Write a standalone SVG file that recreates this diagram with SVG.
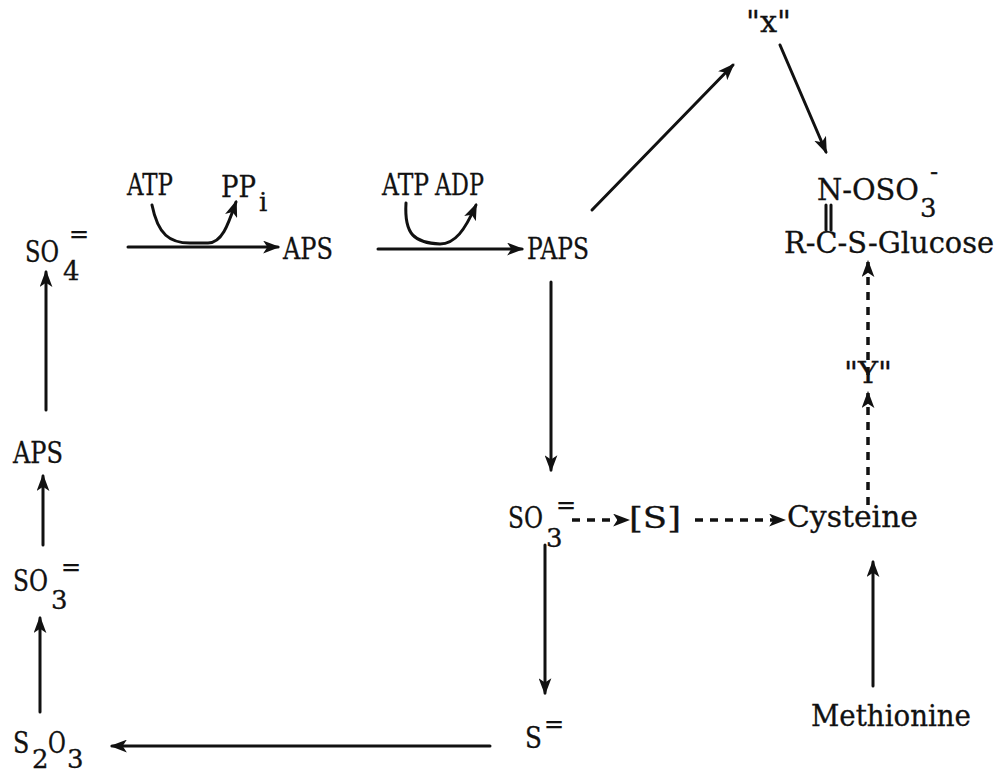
<svg xmlns="http://www.w3.org/2000/svg" width="995" height="774" viewBox="0 0 995 774">
<style>
text{font-family:"DejaVu Serif","Liberation Serif",serif;font-size:29px;fill:#111;stroke:#111;stroke-width:0.3}
.sub{font-size:26px}
.sup{font-size:24px}
.ln{fill:none;stroke:#111;stroke-width:3;stroke-linecap:round}
.dash{fill:none;stroke:#111;stroke-width:3.5;stroke-dasharray:8,7}
</style>
<defs>
<marker id="ah" viewBox="0 0 16 12" refX="14" refY="6" markerWidth="17" markerHeight="13" markerUnits="userSpaceOnUse" orient="auto">
<path d="M0,0 L16,6 L0,12 L4,6 Z" fill="#111"/>
</marker>
</defs>
<rect width="995" height="774" fill="#fff"/>
<g id="connectors">
<path class="ln" d="M128,247 L278,247" marker-end="url(#ah)"/>
<path class="ln" d="M152,205 C158,235 170,243 190,243 L208,243 C222,243 228,225 236,202" marker-end="url(#ah)"/>
<path class="ln" d="M378,249 L522,249" marker-end="url(#ah)"/>
<path class="ln" d="M406,203 C404,235 415,243 440,244 C455,244 465,230 476,205" marker-end="url(#ah)"/>
<path class="ln" d="M592,210 L733,65" marker-end="url(#ah)"/>
<path class="ln" d="M780,45 L826,152" marker-end="url(#ah)"/>
<path class="ln" d="M826,205 L826,230 M831,205 L831,230"/>
<path class="dash" d="M868,375 L868,262" marker-end="url(#ah)"/>
<path class="dash" d="M868,505 L868,393" marker-end="url(#ah)"/>
<path class="ln" d="M873,686 L873,562" marker-end="url(#ah)"/>
<path class="ln" d="M551,282 L551,470" marker-end="url(#ah)"/>
<path class="dash" d="M572,520 L628,520" marker-end="url(#ah)"/>
<path class="dash" d="M695,520 L784,520" marker-end="url(#ah)"/>
<path class="ln" d="M545,545 L545,693" marker-end="url(#ah)"/>
<path class="ln" d="M490,746 L112,746" marker-end="url(#ah)"/>
<path class="ln" d="M40,712 L40,618" marker-end="url(#ah)"/>
<path class="ln" d="M43,545 L43,476" marker-end="url(#ah)"/>
<path class="ln" d="M46,410 L46,272" marker-end="url(#ah)"/>
</g>
<g id="SO4"><text transform="translate(25,262) scale(0.78,1)">SO</text><text class="sub" x="63" y="280">4</text><text class="sup" x="69" y="242">=</text></g>
<g id="ATP1"><text x="127" y="195" textLength="46" lengthAdjust="spacingAndGlyphs">ATP</text></g>
<g id="PPi"><text x="221" y="197" textLength="35" lengthAdjust="spacingAndGlyphs">PP</text><text class="sub" x="259" y="211">i</text></g>
<g id="APS"><text x="283" y="259" textLength="50" lengthAdjust="spacingAndGlyphs">APS</text></g>
<g id="ATP2"><text x="382" y="195" textLength="47" lengthAdjust="spacingAndGlyphs">ATP</text></g>
<g id="ADP"><text x="435" y="195" textLength="49" lengthAdjust="spacingAndGlyphs">ADP</text></g>
<g id="PAPS"><text x="527" y="259" textLength="62" lengthAdjust="spacingAndGlyphs">PAPS</text></g>
<g id="X"><text x="746" y="32" textLength="45" lengthAdjust="spacingAndGlyphs">"x"</text></g>
<g id="NOSO3"><text x="817" y="200" textLength="102" lengthAdjust="spacingAndGlyphs">N-OSO</text><text class="sub" x="920" y="217">3</text><text class="sup" x="930" y="180">-</text></g>
<g id="RCSGlucose"><text x="784" y="253" textLength="210" lengthAdjust="spacingAndGlyphs">R-C-S-Glucose</text></g>
<g id="Y"><text x="844" y="383" textLength="48" lengthAdjust="spacingAndGlyphs">"Y"</text></g>
<g id="Cysteine"><text x="787" y="527" textLength="131" lengthAdjust="spacingAndGlyphs">Cysteine</text></g>
<g id="Methionine"><text x="811" y="726" textLength="160" lengthAdjust="spacingAndGlyphs">Methionine</text></g>
<g id="SO3right"><text transform="translate(508,528) scale(0.8,1)">SO</text><text class="sub" x="546" y="547">3</text><text class="sup" x="556" y="513">=</text></g>
<g id="S"><text x="629" y="528" textLength="52" lengthAdjust="spacingAndGlyphs">[S]</text></g>
<g id="Sulfide"><text transform="translate(525,748) scale(0.85,1)">S</text><text class="sup" x="544" y="732">=</text></g>
<g id="S2O3"><text transform="translate(13,753) scale(0.82,1)">S</text><text class="sub" x="32" y="768">2</text><text transform="translate(48,753) scale(0.75,1)">O</text><text class="sub" x="67" y="768">3</text></g>
<g id="SO3left"><text transform="translate(13,591) scale(0.8,1)">SO</text><text class="sub" x="51" y="609">3</text><text class="sup" x="61" y="575">=</text></g>
<g id="APSleft"><text x="13" y="463" textLength="50" lengthAdjust="spacingAndGlyphs">APS</text></g>
</svg>
